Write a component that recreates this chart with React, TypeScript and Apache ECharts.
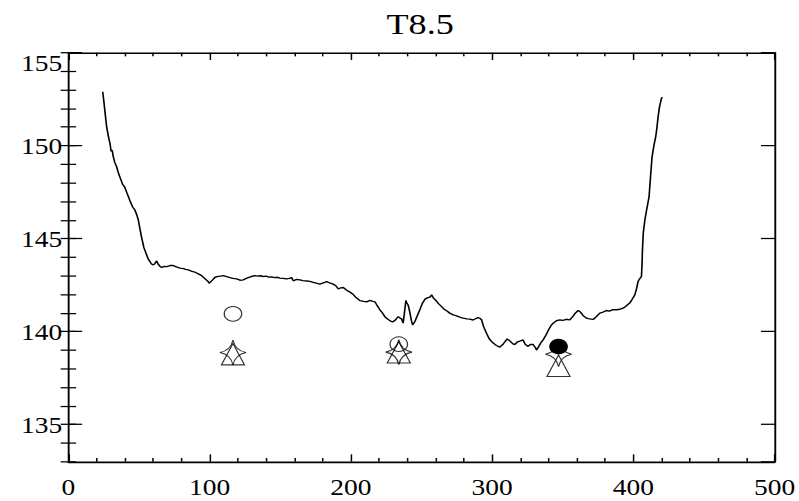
import React, { useEffect, useRef } from "react";
import * as echarts from "echarts";

// Profile trace (position vs value)
const profileX = [
  24.3, 25.2, 26.2, 27.1, 28.3, 29.5, 30.2, 31.0, 31.8, 32.8, 34.2, 35.5, 37.0, 38.5, 40.0, 41.2,
  42.5, 44.0, 45.5, 47.0, 48.3, 49.5, 50.7, 52.0, 53.5, 55.4, 56.5, 57.7, 59.0, 60.1, 61.2, 62.5,
  63.6, 65.0, 66.0, 67.5, 69.6, 72.0, 74.2, 76.5, 79.0, 81.5, 83.0, 84.9, 87.0, 89.6, 92.0, 94.3,
  96.5, 98.5, 99.7, 101.0, 102.1, 103.8, 105.4, 107.5, 109.6, 112.0, 114.4, 116.5, 119.1, 121.4,
  123.8, 125.5, 127.3, 129.5, 132.0, 134.0, 136.0, 137.9, 140.0, 142.0, 143.9, 146.0, 148.0, 149.8,
  152.0, 154.5, 156.5, 158.0, 159.2, 161.5, 163.9, 166.0, 168.6, 171.0, 173.3, 175.5, 178.0, 180.5,
  182.8, 185.0, 187.5, 189.5, 191.0, 192.8, 194.6, 197.0, 199.3, 201.5, 204.0, 206.5, 209.0, 211.1,
  213.5, 215.5, 217.0, 219.0, 220.5, 222.3, 224.0, 226.0, 228.0, 229.5, 231.2, 233.5, 235.0, 235.9,
  237.0, 238.2, 238.9, 239.5, 240.5, 241.2, 241.8, 242.8, 243.7, 245.3, 247.0, 248.8, 250.5, 252.4,
  254.5, 256.0, 257.1, 258.5, 260.2, 262.0, 264.2, 266.0, 268.0, 270.0, 272.5, 274.8, 277.0, 279.5,
  282.0, 284.2, 286.5, 288.5, 290.1, 291.5, 292.5, 294.0, 296.0, 298.0, 300.7, 303.0, 305.4, 307.5,
  309.0, 310.6, 312.5, 314.5, 316.0, 318.0, 320.0, 321.9, 323.5, 325.5, 327.0, 329.0, 330.5, 331.4,
  333.0, 334.5, 336.1, 338.0, 340.0, 341.5, 343.2, 345.5, 347.9, 350.0, 352.5, 355.0, 357.0, 359.0,
  360.9, 362.5, 364.5, 366.8, 369.0, 371.5, 373.5, 376.2, 378.5, 380.9, 383.0, 385.5, 388.0, 390.5,
  392.7, 394.5, 396.0, 397.4, 399.0, 401.0, 402.2, 403.3, 404.5, 405.7, 406.1, 406.4, 407.0, 408.1,
  409.5, 411.1, 412.0, 413.2, 414.5, 415.8, 416.7, 417.5, 418.5, 419.9, 420.6,
];
const profileY = [
  152.9, 152.3, 151.6, 151.0, 150.5, 150.1, 149.7, 149.75, 149.4, 149.1, 148.85, 148.5, 148.2, 147.9, 147.75, 147.5,
  147.25, 146.95, 146.7, 146.55, 146.3, 146.0, 145.5, 145.0, 144.5, 144.12, 143.9, 143.76, 143.62, 143.59, 143.65, 143.8,
  143.62, 143.5, 143.44, 143.5, 143.49, 143.55, 143.55, 143.48, 143.41, 143.38, 143.34, 143.32, 143.25, 143.19, 143.1, 143.01,
  142.85, 142.72, 142.6, 142.7, 142.78, 142.92, 142.96, 142.98, 143.01, 142.95, 142.9, 142.86, 142.83, 142.76,
  142.78, 142.85, 142.9, 142.96, 143.01, 142.98, 143.0, 142.96, 142.98, 142.93, 142.94, 142.9, 142.92, 142.87,
  142.86, 142.83, 142.86, 142.9, 142.73, 142.8, 142.78, 142.74, 142.72, 142.7, 142.65, 142.6, 142.55, 142.62,
  142.69, 142.62, 142.55, 142.45, 142.3, 142.35, 142.37, 142.22, 142.12, 142.0, 141.8, 141.66, 141.62, 141.6,
  141.67, 141.62, 141.6, 141.35, 141.17, 141.0, 140.8, 140.68, 140.56, 140.52, 140.6, 140.8, 140.72, 140.67,
  140.45, 141.2, 141.67, 141.55, 141.43, 141.2, 141.0, 140.6, 140.36, 140.54, 140.85, 141.17, 141.5, 141.74,
  141.82, 141.85, 141.97, 141.8, 141.67, 141.5, 141.34, 141.2, 141.1, 140.99, 140.9, 140.84, 140.78, 140.72,
  140.68, 140.67, 140.62, 140.7, 140.75, 140.7, 140.63, 140.25, 139.91, 139.6, 139.38, 139.25, 139.16, 139.3,
  139.45, 139.6, 139.5, 139.35, 139.3, 139.45, 139.5, 139.55, 139.3, 139.2, 139.3, 139.3, 139.15, 139.0,
  139.2, 139.4, 139.55, 139.8, 140.1, 140.3, 140.45, 140.58, 140.63, 140.6, 140.66, 140.63, 140.8, 141.0,
  141.13, 141.05, 140.85, 140.72, 140.68, 140.65, 140.78, 140.99, 141.05, 141.13, 141.1, 141.18, 141.17, 141.2,
  141.26, 141.35, 141.45, 141.53, 141.72, 141.97, 142.3, 142.69, 142.85, 142.96, 143.6, 144.4, 145.3, 146.0,
  146.6, 147.26, 148.2, 149.4, 150.0, 150.48, 151.0, 151.56, 152.1, 152.55, 152.6,
];

// Point estimates at three positions
const openCircleX = [116.5, 233.9];
const openCircleY = [140.95, 139.32];
const filledCircleX = [347.0];
const filledCircleY = [139.19];
const starX = [116.5, 233.9, 347.0];
const starY = [138.87, 138.89, 138.78];
const triangleX = [116.5, 233.9, 347.0];
const triangleY = [138.78, 138.88, 138.16];

const titleText = "T8.5";
const xMin = 0;
const xMax = 500;
const yMin = 133;
const yMax = 155;

const pairs = (xs: number[], ys: number[]) => xs.map((x, i) => [x, ys[i]]);

const FONT = "Liberation Serif";
const INK = "#000";

const starPath =
  "path://M0,-12 Q2,-2 12,0 Q2,2 0,12 Q-2,2 -12,0 Q-2,-2 0,-12 Z";

function xAxisDef(position: "bottom" | "top", labels: boolean) {
  return {
    type: "value",
    position,
    min: xMin,
    max: xMax,
    interval: 100,
    axisLine: { show: true, onZero: false, lineStyle: { color: INK, width: 1.5 } },
    axisTick: { show: true, inside: true, length: 7, lineStyle: { color: INK, width: 1.2 } },
    minorTick: { show: true, splitNumber: 5, length: 3.5, lineStyle: { color: INK, width: 1.2 } },
    splitLine: { show: false },
    minorSplitLine: { show: false },
    axisLabel: {
      show: labels,
      color: INK,
      fontFamily: FONT,
      fontSize: 22,
      margin: 13,
    },
  };
}

function yMajorDef(position: "left" | "right", labels: boolean) {
  return {
    type: "value",
    position,
    min: yMin,
    max: yMax,
    splitNumber: 5,
    axisLine: { show: true, onZero: false, lineStyle: { color: INK, width: 1.5 } },
    axisTick: { show: true, inside: true, length: 11, lineStyle: { color: INK, width: 1.2 } },
    splitLine: { show: false },
    axisLabel: {
      show: labels,
      showMinLabel: false,
      color: INK,
      fontFamily: FONT,
      fontSize: 22,
      margin: 5,
      formatter: (v: number) => (v === yMax ? `{top|${v}}` : `${v}`),
      rich: {
        top: { fontFamily: FONT, fontSize: 22, color: INK, padding: [19, 0, 0, 0] },
      },
    },
  };
}

function yMinorDef(position: "left" | "right") {
  return {
    type: "value",
    position,
    min: yMin,
    max: yMax,
    interval: 1,
    axisLine: { show: false },
    axisTick: { show: true, inside: true, length: 6.2, lineStyle: { color: INK, width: 1.2 } },
    splitLine: { show: false },
    axisLabel: { show: false },
  };
}

const hollow = { color: "rgba(0,0,0,0)", borderColor: INK, borderWidth: 1 };

const option = {
  animation: false,
  backgroundColor: "#fff",
  title: {
    text: titleText,
    left: 336.5,
    textAlign: "center",
    top: 8,
    padding: 0,
    textStyle: { fontFamily: FONT, fontSize: 29, fontWeight: "normal", color: INK },
  },
  grid: { left: 54.8, right: 19.2, top: 50.5, bottom: 37.7 },
  xAxis: [xAxisDef("bottom", true), xAxisDef("top", false)],
  yAxis: [yMajorDef("left", true), yMinorDef("left"), yMajorDef("right", false), yMinorDef("right")],
  series: [
    {
      type: "line",
      data: pairs(profileX, profileY),
      showSymbol: false,
      lineStyle: { color: INK, width: 1.3 },
      xAxisIndex: 0,
      yAxisIndex: 0,
    },
    {
      type: "scatter",
      data: pairs(openCircleX, openCircleY),
      symbol: "circle",
      symbolSize: 14,
      itemStyle: hollow,
      xAxisIndex: 0,
      yAxisIndex: 0,
    },
    {
      type: "scatter",
      data: pairs(filledCircleX, filledCircleY),
      symbol: "circle",
      symbolSize: 15,
      itemStyle: { color: INK, opacity: 1 },
      xAxisIndex: 0,
      yAxisIndex: 0,
    },
    {
      type: "scatter",
      data: pairs(starX, starY),
      symbol: starPath,
      symbolSize: [21, 24],
      itemStyle: hollow,
      xAxisIndex: 0,
      yAxisIndex: 0,
    },
    {
      type: "scatter",
      data: pairs(triangleX, triangleY),
      symbol: "triangle",
      symbolSize: [18.5, 20.5],
      itemStyle: hollow,
      xAxisIndex: 0,
      yAxisIndex: 0,
    },
  ],
};

export default function App() {
  const ref = useRef<HTMLDivElement>(null);
  useEffect(() => {
    if (!ref.current) return;
    const chart = echarts.init(ref.current, null, { renderer: "svg" });
    chart.setOption(option as any);
    return () => chart.dispose();
  }, []);
  return (
    <div
      style={{
        position: "fixed",
        left: 0,
        top: 0,
        width: 799,
        height: 501,
        overflow: "hidden",
        background: "#fff",
      }}
    >
      <div
        ref={ref}
        style={{
          width: 640,
          height: 480,
          transform: `scale(${799 / 640}, ${501 / 480})`,
          transformOrigin: "0 0",
        }}
      />
    </div>
  );
}
